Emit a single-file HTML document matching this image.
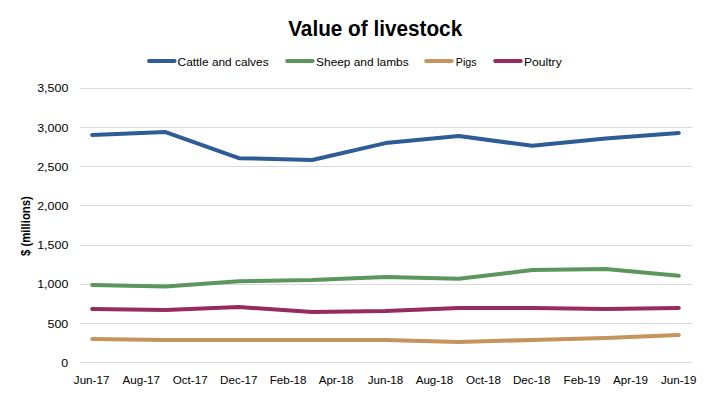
<!DOCTYPE html>
<html><head><meta charset="utf-8"><style>
html,body{margin:0;padding:0;background:#fff;width:706px;height:396px;overflow:hidden}
svg{display:block}
text{font-family:"Liberation Sans",sans-serif;fill:#000}
</style></head><body>
<svg width="706" height="396" viewBox="0 0 706 396">
<rect width="706" height="396" fill="#fff"/>
<g stroke="#d9d9d9" stroke-width="1" shape-rendering="crispEdges"><line x1="80" y1="88.5" x2="692" y2="88.5"/><line x1="80" y1="127.5" x2="692" y2="127.5"/><line x1="80" y1="166.5" x2="692" y2="166.5"/><line x1="80" y1="205.5" x2="692" y2="205.5"/><line x1="80" y1="245.5" x2="692" y2="245.5"/><line x1="80" y1="284.5" x2="692" y2="284.5"/><line x1="80" y1="323.5" x2="692" y2="323.5"/><line x1="80" y1="362.5" x2="692" y2="362.5"/></g>
<text x="375.2" y="35.6" text-anchor="middle" font-size="21.4" font-weight="bold" textLength="174" lengthAdjust="spacingAndGlyphs">Value of livestock</text>
<line x1="149.0" y1="61" x2="174.7" y2="61" stroke="#2d5c97" stroke-width="3.8" stroke-linecap="round"/><text x="177.6" y="65.8" font-size="11.2" textLength="91.00000000000003" lengthAdjust="spacingAndGlyphs">Cattle and calves</text>
<line x1="287.1" y1="61" x2="312.8" y2="61" stroke="#5b965c" stroke-width="3.8" stroke-linecap="round"/><text x="316.1" y="65.8" font-size="11.2" textLength="92.5" lengthAdjust="spacingAndGlyphs">Sheep and lambs</text>
<line x1="426.1" y1="61" x2="451.8" y2="61" stroke="#c4945c" stroke-width="3.8" stroke-linecap="round"/><text x="455.8" y="65.8" font-size="11.2" textLength="20.69999999999999" lengthAdjust="spacingAndGlyphs">Pigs</text>
<line x1="495.1" y1="61" x2="520.8000000000001" y2="61" stroke="#972b5e" stroke-width="3.8" stroke-linecap="round"/><text x="524.0" y="65.8" font-size="11.2" textLength="37.700000000000045" lengthAdjust="spacingAndGlyphs">Poultry</text>
<text transform="translate(68.3,91.9) scale(1.11,1)" text-anchor="end" font-size="11.2">3,500</text><text transform="translate(68.3,131.9) scale(1.11,1)" text-anchor="end" font-size="11.2">3,000</text><text transform="translate(68.3,170.9) scale(1.11,1)" text-anchor="end" font-size="11.2">2,500</text><text transform="translate(68.3,209.9) scale(1.11,1)" text-anchor="end" font-size="11.2">2,000</text><text transform="translate(68.3,248.9) scale(1.11,1)" text-anchor="end" font-size="11.2">1,500</text><text transform="translate(68.3,287.9) scale(1.11,1)" text-anchor="end" font-size="11.2">1,000</text><text transform="translate(68.3,327.9) scale(1.11,1)" text-anchor="end" font-size="11.2">500</text><text transform="translate(68.3,366.9) scale(1.11,1)" text-anchor="end" font-size="11.2">0</text>
<text transform="translate(91.60,383.9) scale(1.04,1)" text-anchor="middle" font-size="11.2">Jun-17</text><text transform="translate(141.30,383.9) scale(1.04,1)" text-anchor="middle" font-size="11.2">Aug-17</text><text transform="translate(190.20,383.9) scale(1.04,1)" text-anchor="middle" font-size="11.2">Oct-17</text><text transform="translate(238.80,383.9) scale(1.04,1)" text-anchor="middle" font-size="11.2">Dec-17</text><text transform="translate(288.10,383.9) scale(1.04,1)" text-anchor="middle" font-size="11.2">Feb-18</text><text transform="translate(336.10,383.9) scale(1.04,1)" text-anchor="middle" font-size="11.2">Apr-18</text><text transform="translate(385.50,383.9) scale(1.04,1)" text-anchor="middle" font-size="11.2">Jun-18</text><text transform="translate(434.40,383.9) scale(1.04,1)" text-anchor="middle" font-size="11.2">Aug-18</text><text transform="translate(483.40,383.9) scale(1.04,1)" text-anchor="middle" font-size="11.2">Oct-18</text><text transform="translate(531.70,383.9) scale(1.04,1)" text-anchor="middle" font-size="11.2">Dec-18</text><text transform="translate(582.00,383.9) scale(1.04,1)" text-anchor="middle" font-size="11.2">Feb-19</text><text transform="translate(630.50,383.9) scale(1.04,1)" text-anchor="middle" font-size="11.2">Apr-19</text><text transform="translate(678.70,383.9) scale(1.04,1)" text-anchor="middle" font-size="11.2">Jun-19</text>
<text transform="translate(29.7,226.1) rotate(-90)" x="0" y="0" text-anchor="middle" font-size="12.5" font-weight="bold" textLength="60" lengthAdjust="spacingAndGlyphs">$ (millions)</text>
<polyline points="92.22,134.90 165.54,132.10 238.86,158.20 312.18,160.00 385.50,143.10 458.82,136.10 532.14,145.80 605.46,138.40 678.78,133.00" fill="none" stroke="#2d5c97" stroke-width="4" stroke-linejoin="round" stroke-linecap="round"/>
<polyline points="92.22,284.90 165.54,286.50 238.86,281.20 312.18,280.00 385.50,277.00 458.82,278.80 532.14,270.00 605.46,269.00 678.78,275.80" fill="none" stroke="#5b965c" stroke-width="4" stroke-linejoin="round" stroke-linecap="round"/>
<polyline points="92.22,339.00 165.54,339.90 238.86,339.90 312.18,339.90 385.50,339.90 458.82,341.90 532.14,340.00 605.46,338.00 678.78,335.00" fill="none" stroke="#c4945c" stroke-width="4" stroke-linejoin="round" stroke-linecap="round"/>
<polyline points="92.22,309.00 165.54,309.90 238.86,307.10 312.18,311.90 385.50,311.00 458.82,308.00 532.14,307.90 605.46,308.90 678.78,308.00" fill="none" stroke="#972b5e" stroke-width="4" stroke-linejoin="round" stroke-linecap="round"/>
</svg>
</body></html>
